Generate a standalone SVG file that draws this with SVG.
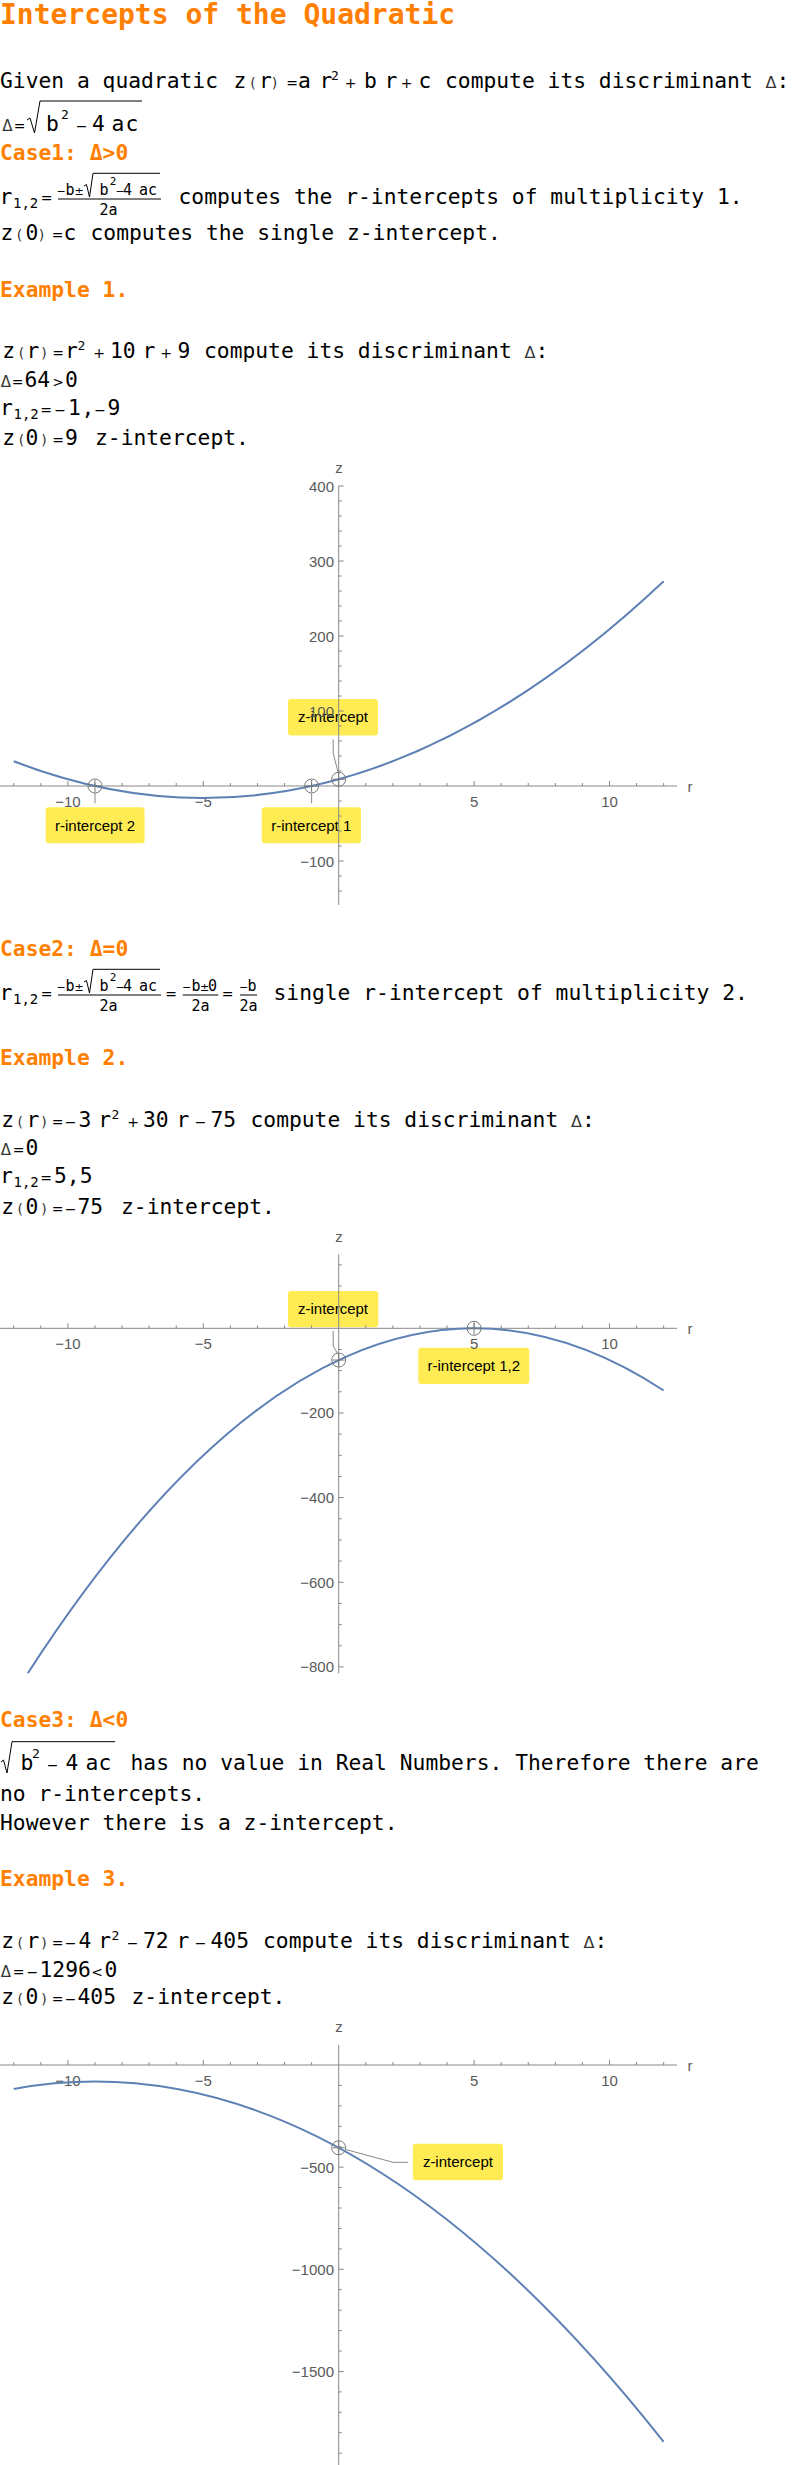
<svg xmlns="http://www.w3.org/2000/svg" width="796" height="2465" viewBox="0 0 796 2465">
<style>
.t{font-family:"DejaVu Sans Mono",monospace;font-size:21.3px;fill:#000}
.c{text-anchor:middle}
.h{font-family:"DejaVu Sans Mono",monospace;font-weight:bold;font-size:21.3px;fill:#FF8000}
.o{font-family:"DejaVu Sans",sans-serif;font-size:14px;fill:#000;text-anchor:middle}
.p{font-family:"DejaVu Sans",sans-serif;font-size:14px;fill:#333;text-anchor:middle}
.d{font-family:"DejaVu Sans",sans-serif;font-size:15px;fill:#333;text-anchor:middle}
.dt{font-family:"DejaVu Sans",sans-serif;font-size:16px;fill:#333}
.s{font-family:"DejaVu Sans Mono",monospace;font-size:13px;fill:#000;text-anchor:middle}
.sub{font-family:"DejaVu Sans Mono",monospace;font-size:14px;fill:#000}
.f{font-family:"DejaVu Sans Mono",monospace;font-size:15px;fill:#000;text-anchor:middle}
.fo{font-family:"DejaVu Sans",sans-serif;font-size:11px;fill:#000;text-anchor:middle}
.ln{stroke:#000;stroke-width:1;fill:none}
.ax{stroke:#888;stroke-width:1;fill:none}
.tk{font-family:"Liberation Sans",Arial,sans-serif;font-size:15px;fill:#5a5a5a}
.te{text-anchor:end}
.curve{stroke:#5E81B5;stroke-width:2;fill:none}
.box{fill:#FFEC54}
.lb{font-family:"Liberation Sans",Arial,sans-serif;font-size:15px;fill:#000;text-anchor:middle}
.co{stroke:#888;stroke-width:1;fill:none}
.mk{stroke:#777;stroke-width:1;fill:none}
</style>
<defs>
<g id="frac1">
 <text class="t c" x="6" y="204">r</text>
 <text class="sub" x="13" y="208">1,2</text>
 <text class="o" x="46.5" y="203">=</text>
 <text class="fo" x="61" y="195">−</text>
 <text class="f" x="70" y="195">b</text>
 <text class="fo" x="79" y="195">±</text>
 <path class="ln" d="M84,186 L86.5,184.5 L89.5,197 L93,173.3 H160"/>
 <text class="f" x="104" y="195">b</text>
 <text class="s" x="113" y="185" style="font-size:11px">2</text>
 <text class="fo" x="120" y="195">−</text>
 <text class="f" x="127.5" y="195">4</text>
 <text class="f" x="148" y="195">ac</text>
 <path class="ln" d="M58,199H161"/>
 <text class="f" x="108.5" y="215">2a</text>
</g>
<g id="xax">
 <path class="ax" d="M0,0H677"/>
 <path class="ax" d="M13.74,0v-3M40.82,0v-3M67.9,0v-5M94.98,0v-3M122.06,0v-3M149.14,0v-3M176.22,0v-3M203.3,0v-5M230.38,0v-3M257.46,0v-3M284.54,0v-3M311.62,0v-3M365.78,0v-3M392.86,0v-3M419.94,0v-3M447.02,0v-3M474.1,0v-5M501.18,0v-3M528.26,0v-3M555.34,0v-3M582.42,0v-3M609.5,0v-5M636.58,0v-3M663.66,0v-3"/>
 <text class="tk c" x="67.9" y="20.5">−10</text>
 <text class="tk c" x="203.3" y="20.5">−5</text>
 <text class="tk c" x="474.1" y="20.5">5</text>
 <text class="tk c" x="609.5" y="20.5">10</text>
 <text class="tk c" x="690" y="6">r</text>
</g>
<g id="mk" class="mk"><circle cx="0" cy="0" r="7"/><path d="M-6,0H6M0,-6V6"/></g>
</defs>

<g id="title"><text class="h" x="0" y="24" style="font-size:28px">Intercepts of the Quadratic</text></g>

<g id="intro">
 <text class="t" x="0" y="88">Given a quadratic</text>
 <text class="t c" x="240" y="88">z</text>
 <text class="p" x="253" y="88">(</text>
 <text class="t c" x="265.5" y="88">r</text>
 <text class="p" x="274.5" y="88">)</text>
 <text class="o" x="292" y="88">=</text>
 <text class="t c" x="304.5" y="88">a</text>
 <text class="t c" x="326" y="88">r</text>
 <text class="s" x="335" y="80">2</text>
 <text class="o" x="350.5" y="88">+</text>
 <text class="t c" x="370.5" y="88">b</text>
 <text class="t c" x="391" y="88">r</text>
 <text class="o" x="406.5" y="88">+</text>
 <text class="t c" x="425" y="88">c</text>
 <text class="t" x="445" y="88">compute its discriminant <tspan class="dt">Δ</tspan>:</text>

 <text class="d" x="7.5" y="130.7">Δ</text>
 <text class="o" x="19.5" y="130.7">=</text>
 <path class="ln" d="M27,120 L30,118 L34.5,133 L40,101 H142"/>
 <text class="t c" x="52.5" y="130.7">b</text>
 <text class="s" x="65" y="119">2</text>
 <text class="o" x="81.5" y="130.7">−</text>
 <text class="t c" x="98.5" y="130.7">4</text>
 <text class="t c" x="118" y="130.7">a</text>
 <text class="t c" x="132" y="130.7">c</text>
</g>

<g id="case1">
 <text class="h" x="0" y="160">Case1: Δ&gt;0</text>
 <use href="#frac1"/>
 <text class="t" x="178.5" y="204">computes the r-intercepts of multiplicity 1.</text>
 <text class="t c" x="7" y="240">z</text>
 <text class="p" x="19.5" y="240">(</text>
 <text class="t c" x="32" y="240">0</text>
 <text class="p" x="41.5" y="240">)</text>
 <text class="o" x="57.5" y="240">=</text>
 <text class="t c" x="70" y="240">c</text>
 <text class="t" x="90.5" y="240">computes the single z-intercept.</text>
</g>

<g id="example1">
 <text class="h" x="0" y="296.7">Example 1.</text>
 <text class="t c" x="8.7" y="358.3">z</text>
 <text class="p" x="21.5" y="358.3">(</text>
 <text class="t c" x="33" y="358.3">r</text>
 <text class="p" x="44" y="358.3">)</text>
 <text class="o" x="58" y="358.3">=</text>
 <text class="t c" x="71.5" y="358.3">r</text>
 <text class="s" x="81.3" y="350">2</text>
 <text class="o" x="99" y="358.3">+</text>
 <text class="t" x="110" y="358.3">10</text>
 <text class="t c" x="149" y="358.3">r</text>
 <text class="o" x="166" y="358.3">+</text>
 <text class="t c" x="184" y="358.3">9</text>
 <text class="t" x="204" y="358.3">compute its discriminant <tspan class="dt">Δ</tspan>:</text>

 <text class="d" x="6" y="386.7">Δ</text>
 <text class="o" x="17.7" y="386.7">=</text>
 <text class="t" x="24.5" y="386.7">64</text>
 <text class="o" x="58" y="386.7">&gt;</text>
 <text class="t c" x="71.5" y="386.7">0</text>

 <text class="t c" x="6.5" y="415">r</text>
 <text class="sub" x="13.5" y="419">1,2</text>
 <text class="o" x="46" y="415">=</text>
 <text class="o" x="60" y="415">−</text>
 <text class="t c" x="74.5" y="415">1</text>
 <text class="t c" x="88" y="415">,</text>
 <text class="o" x="100" y="415">−</text>
 <text class="t c" x="114" y="415">9</text>

 <text class="t c" x="8.7" y="445">z</text>
 <text class="p" x="21.5" y="445">(</text>
 <text class="t c" x="32" y="445">0</text>
 <text class="p" x="44" y="445">)</text>
 <text class="o" x="58" y="445">=</text>
 <text class="t c" x="71.5" y="445">9</text>
 <text class="t" x="95" y="445">z-intercept.</text>
</g>

<g id="plot1">
 <rect class="box" x="45.6" y="807.3" width="99" height="36" rx="3"/>
 <text class="lb" x="95" y="830.5">r-intercept 2</text>
 <rect class="box" x="261.7" y="807.3" width="99.3" height="36" rx="3"/>
 <text class="lb" x="311.3" y="830.5">r-intercept 1</text>
 <rect class="box" x="288" y="699" width="90" height="36.5" rx="3"/>
 <text class="lb" x="333" y="722.3">z-intercept</text>
 <use href="#xax" y="786"/>
 <path class="ax" d="M338.7,486V905"/>
 <path class="ax" d="M338.7,486h5M338.7,561h5M338.7,636h5M338.7,711h5M338.7,861h5M338.7,501h3M338.7,516h3M338.7,531h3M338.7,546h3M338.7,576h3M338.7,591h3M338.7,606h3M338.7,621h3M338.7,651h3M338.7,666h3M338.7,681h3M338.7,696h3M338.7,726h3M338.7,741h3M338.7,756h3M338.7,771h3M338.7,801h3M338.7,816h3M338.7,831h3M338.7,846h3M338.7,876h3M338.7,891h3"/>
 <text class="tk te" x="334" y="491.5">400</text>
 <text class="tk te" x="334" y="566.5">300</text>
 <text class="tk te" x="334" y="641.5">200</text>
 <text class="tk te" x="334" y="716.5">100</text>
 <text class="tk te" x="334" y="866.5">−100</text>
 <text class="tk c" x="339" y="472.7">z</text>
 <path class="curve" d="M13.74,761.25 Q338.7,887.25 663.66,581.25"/>
 <use href="#mk" x="94.98" y="786"/>
 <use href="#mk" x="311.62" y="786"/>
 <use href="#mk" x="338.7" y="779.25"/>
</g>

<g id="case2">
 <text class="h" x="0" y="956">Case2: Δ=0</text>
 <use href="#frac1" y="796"/>
 <text class="o" x="171" y="999">=</text>
 <path class="ln" d="M182.7,995H218.3M240,995H257"/>
 <text class="fo" x="186.5" y="991">−</text>
 <text class="f" x="196" y="991">b</text>
 <text class="fo" x="204.5" y="991">±</text>
 <text class="f" x="212.5" y="991">0</text>
 <text class="f" x="200.5" y="1011">2a</text>
 <text class="o" x="227.5" y="999">=</text>
 <text class="fo" x="243.5" y="991">−</text>
 <text class="f" x="252" y="991">b</text>
 <text class="f" x="248.5" y="1011">2a</text>
 <text class="t" x="273.5" y="1000">single r-intercept of multiplicity 2.</text>
</g>

<g id="example2">
 <text class="h" x="0" y="1065">Example 2.</text>
 <text class="t c" x="7.6" y="1127.3">z</text>
 <text class="p" x="20.2" y="1127.3">(</text>
 <text class="t c" x="33" y="1127.3">r</text>
 <text class="p" x="44.1" y="1127.3">)</text>
 <text class="o" x="57.5" y="1127.3">=</text>
 <text class="o" x="70.5" y="1127.3">−</text>
 <text class="t c" x="85" y="1127.3">3</text>
 <text class="t c" x="104.7" y="1127.3">r</text>
 <text class="s" x="115.3" y="1119">2</text>
 <text class="o" x="133" y="1127.3">+</text>
 <text class="t" x="143" y="1127.3">30</text>
 <text class="t c" x="183" y="1127.3">r</text>
 <text class="o" x="200.6" y="1127.3">−</text>
 <text class="t" x="210.5" y="1127.3">75</text>
 <text class="t" x="250.5" y="1127.3">compute its discriminant <tspan class="dt">Δ</tspan>:</text>

 <text class="d" x="6" y="1155">Δ</text>
 <text class="o" x="18.5" y="1155">=</text>
 <text class="t c" x="32" y="1155">0</text>

 <text class="t c" x="6.5" y="1183.3">r</text>
 <text class="sub" x="13.5" y="1187">1,2</text>
 <text class="o" x="46" y="1183.3">=</text>
 <text class="t" x="54" y="1183.3">5,5</text>

 <text class="t c" x="7.6" y="1214">z</text>
 <text class="p" x="20.2" y="1214">(</text>
 <text class="t c" x="32" y="1214">0</text>
 <text class="p" x="44.1" y="1214">)</text>
 <text class="o" x="57.5" y="1214">=</text>
 <text class="o" x="70.5" y="1214">−</text>
 <text class="t" x="77.5" y="1214">75</text>
 <text class="t" x="121" y="1214">z-intercept.</text>
</g>

<g id="plot2">
 <rect class="box" x="288" y="1291" width="90.3" height="36.3" rx="3"/>
 <text class="lb" x="333" y="1314.3">z-intercept</text>
 <rect class="box" x="418.3" y="1347.7" width="111" height="36.3" rx="3"/>
 <text class="lb" x="473.8" y="1371">r-intercept 1,2</text>
 <use href="#xax" y="1328.3"/>
 <path class="ax" d="M338.7,1254.3V1673.3"/>
 <path class="ax" d="M338.7,1412.96h5M338.7,1497.6h5M338.7,1582.3h5M338.7,1666.9h5M338.7,1264.8h3M338.7,1286h3M338.7,1307.1h3M338.7,1349.5h3M338.7,1370.6h3M338.7,1391.8h3M338.7,1434.1h3M338.7,1455.3h3M338.7,1476.5h3M338.7,1518.8h3M338.7,1540h3M338.7,1561.1h3M338.7,1603.4h3M338.7,1624.6h3M338.7,1645.8h3"/>
 <text class="tk te" x="334" y="1418.4">−200</text>
 <text class="tk te" x="334" y="1503.1">−400</text>
 <text class="tk te" x="334" y="1587.8">−600</text>
 <text class="tk te" x="334" y="1672.4">−800</text>
 <text class="tk c" x="339" y="1242">z</text>
 <path class="curve" d="M27.82,1673.2 Q345.74,1181.8 663.66,1390.5"/>
 <use href="#mk" x="474.1" y="1328.3"/>
 <use href="#mk" x="338.7" y="1360.05"/>
</g>

<g id="case3">
 <text class="h" x="0" y="1727.3">Case3: Δ&lt;0</text>
 <path class="ln" d="M1,1762 L3.5,1760 L7,1773 L12,1741.7 H115"/>
 <text class="t c" x="27" y="1770">b</text>
 <text class="s" x="36" y="1758">2</text>
 <text class="o" x="52.5" y="1770">−</text>
 <text class="t c" x="72" y="1770">4</text>
 <text class="t c" x="92" y="1770">a</text>
 <text class="t c" x="105" y="1770">c</text>
 <text class="t" x="130.5" y="1770">has no value in Real Numbers. Therefore there are</text>
 <text class="t" x="0" y="1801">no r-intercepts.</text>
 <text class="t" x="0" y="1830">However there is a z-intercept.</text>
</g>

<g id="example3">
 <text class="h" x="0" y="1886">Example 3.</text>
 <text class="t c" x="7.6" y="1948.3">z</text>
 <text class="p" x="20.2" y="1948.3">(</text>
 <text class="t c" x="33" y="1948.3">r</text>
 <text class="p" x="44.1" y="1948.3">)</text>
 <text class="o" x="57.5" y="1948.3">=</text>
 <text class="o" x="70.5" y="1948.3">−</text>
 <text class="t c" x="85" y="1948.3">4</text>
 <text class="t c" x="104.7" y="1948.3">r</text>
 <text class="s" x="115.3" y="1940">2</text>
 <text class="o" x="132.5" y="1948.3">−</text>
 <text class="t" x="143" y="1948.3">72</text>
 <text class="t c" x="183" y="1948.3">r</text>
 <text class="o" x="200.6" y="1948.3">−</text>
 <text class="t" x="210.5" y="1948.3">405</text>
 <text class="t" x="263" y="1948.3">compute its discriminant <tspan class="dt">Δ</tspan>:</text>

 <text class="d" x="6" y="1976.7">Δ</text>
 <text class="o" x="18.5" y="1976.7">=</text>
 <text class="o" x="32.3" y="1976.7">−</text>
 <text class="t" x="39.5" y="1976.7">1296</text>
 <text class="o" x="97.2" y="1976.7">&lt;</text>
 <text class="t c" x="111" y="1976.7">0</text>

 <text class="t c" x="7.6" y="2004">z</text>
 <text class="p" x="20.2" y="2004">(</text>
 <text class="t c" x="32" y="2004">0</text>
 <text class="p" x="44.1" y="2004">)</text>
 <text class="o" x="57.5" y="2004">=</text>
 <text class="o" x="70.5" y="2004">−</text>
 <text class="t" x="77.5" y="2004">405</text>
 <text class="t" x="131.5" y="2004">z-intercept.</text>
</g>

<g id="plot3">
 <rect class="box" x="412.8" y="2143.7" width="90.2" height="36.6" rx="3"/>
 <text class="lb" x="457.9" y="2167">z-intercept</text>
 <use href="#xax" y="2065"/>
 <path class="ax" d="M338.7,2045V2465"/>
 <path class="ax" d="M338.7,2167.15h5M338.7,2269.3h5M338.7,2371.45h5M338.7,2085.4h3M338.7,2105.9h3M338.7,2126.3h3M338.7,2146.7h3M338.7,2187.6h3M338.7,2208h3M338.7,2228.4h3M338.7,2248.9h3M338.7,2289.7h3M338.7,2310.2h3M338.7,2330.6h3M338.7,2351h3M338.7,2391.9h3M338.7,2412.3h3M338.7,2432.7h3M338.7,2453.2h3"/>
 <text class="tk te" x="334" y="2172.6">−500</text>
 <text class="tk te" x="334" y="2274.8">−1000</text>
 <text class="tk te" x="334" y="2376.9">−1500</text>
 <text class="tk c" x="339" y="2032">z</text>
 <path class="curve" d="M13.74,2088.9 Q338.7,2030.06 663.66,2441.9"/>
 <use href="#mk" x="338.7" y="2147.74"/>
</g>

<g id="connectors">
 <path class="co" d="M94.98,793V803.3"/>
 <path class="co" d="M311.62,793V803.3"/>
 <path class="co" d="M333.2,739.5V753.3L338,772"/>
 <path class="co" d="M333.2,1331V1346L337.5,1353.5"/>
 <path class="co" d="M345.7,2149.5L393,2162.3H408.2"/>
</g>
</svg>
